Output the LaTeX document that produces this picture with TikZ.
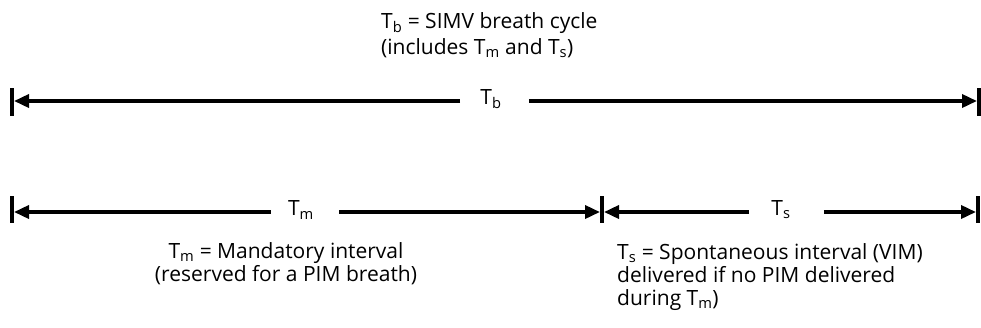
\documentclass[tikz,border=0pt]{standalone}
\usepackage{fontspec}
\setmainfont{Open Sans}
\usetikzlibrary{arrows.meta}
\begin{document}
\begin{tikzpicture}[x=1pt,y=-1pt,
  txt/.style={font=\fontsize{21}{23}\selectfont, inner sep=0pt},
  lbl/.style={font=\fontsize{21}{23}\selectfont, inner sep=0pt},
  dimline/.style={line width=3.5pt, -{Triangle[length=15pt,width=13pt]}},
  tickbar/.style={line width=3.5pt}]
\useasboundingbox (0,0) rectangle (981,327);
% top caption (base anchor = baseline of last line)
\node[txt, anchor=base west, align=left, font=\fontsize{21}{26}\selectfont] (cap) at (381,54)
  {T\textsubscript{b} = SIMV breath cycle\\(includes T\textsubscript{m} and T\textsubscript{s})};
% top dimension
\coordinate (b1t) at (12,88); \coordinate (b1b) at (12,116);
\coordinate (b2t) at (979,88); \coordinate (b2b) at (979,116);
\draw[tickbar] (b1t) -- (b1b);
\draw[tickbar] (b2t) -- (b2b);
\coordinate (tbL) at (14,101);
\coordinate (tbR) at (977,101);
\node[lbl] (tb) at (491,99) {T\textsubscript{b}};
\draw[dimline, shorten <=20pt] (tb.west |- tbL) -- (tbL);
\draw[dimline, shorten <=27pt] (tb.east |- tbR) -- (tbR);
% bottom dimension
\coordinate (c1t) at (12,196); \coordinate (c1b) at (12,223);
\coordinate (c2t) at (602,196); \coordinate (c2b) at (602,223);
\coordinate (c3t) at (978,196); \coordinate (c3b) at (978,223);
\draw[tickbar] (c1t) -- (c1b);
\draw[tickbar] (c2t) -- (c2b);
\draw[tickbar] (c3t) -- (c3b);
\coordinate (tmL) at (14,212);
\coordinate (tmR) at (600,212);
\coordinate (tsL) at (604,212);
\coordinate (tsR) at (976,212);
\node[lbl] (tm) at (301,210) {T\textsubscript{m}};
\node[lbl] (ts) at (781,210) {T\textsubscript{s}};
\draw[dimline, shorten <=17pt] (tm.west |- tmL) -- (tmL);
\draw[dimline, shorten <=25pt] (tm.east |- tmR) -- (tmR);
\draw[dimline, shorten <=22pt] (ts.west |- tsL) -- (tsL);
\draw[dimline, shorten <=33pt] (ts.east |- tsR) -- (tsR);
% bottom captions
\node[txt, anchor=base, align=center] (mcap) at (286,281)
  {T\textsubscript{m} = Mandatory interval\\(reserved for a PIM breath)};
\node[txt, anchor=base west, align=left] (scap) at (617,305)
  {T\textsubscript{s} = Spontaneous interval (VIM)\\delivered if no PIM delivered\\during T\textsubscript{m})};
\end{tikzpicture}
\end{document}
